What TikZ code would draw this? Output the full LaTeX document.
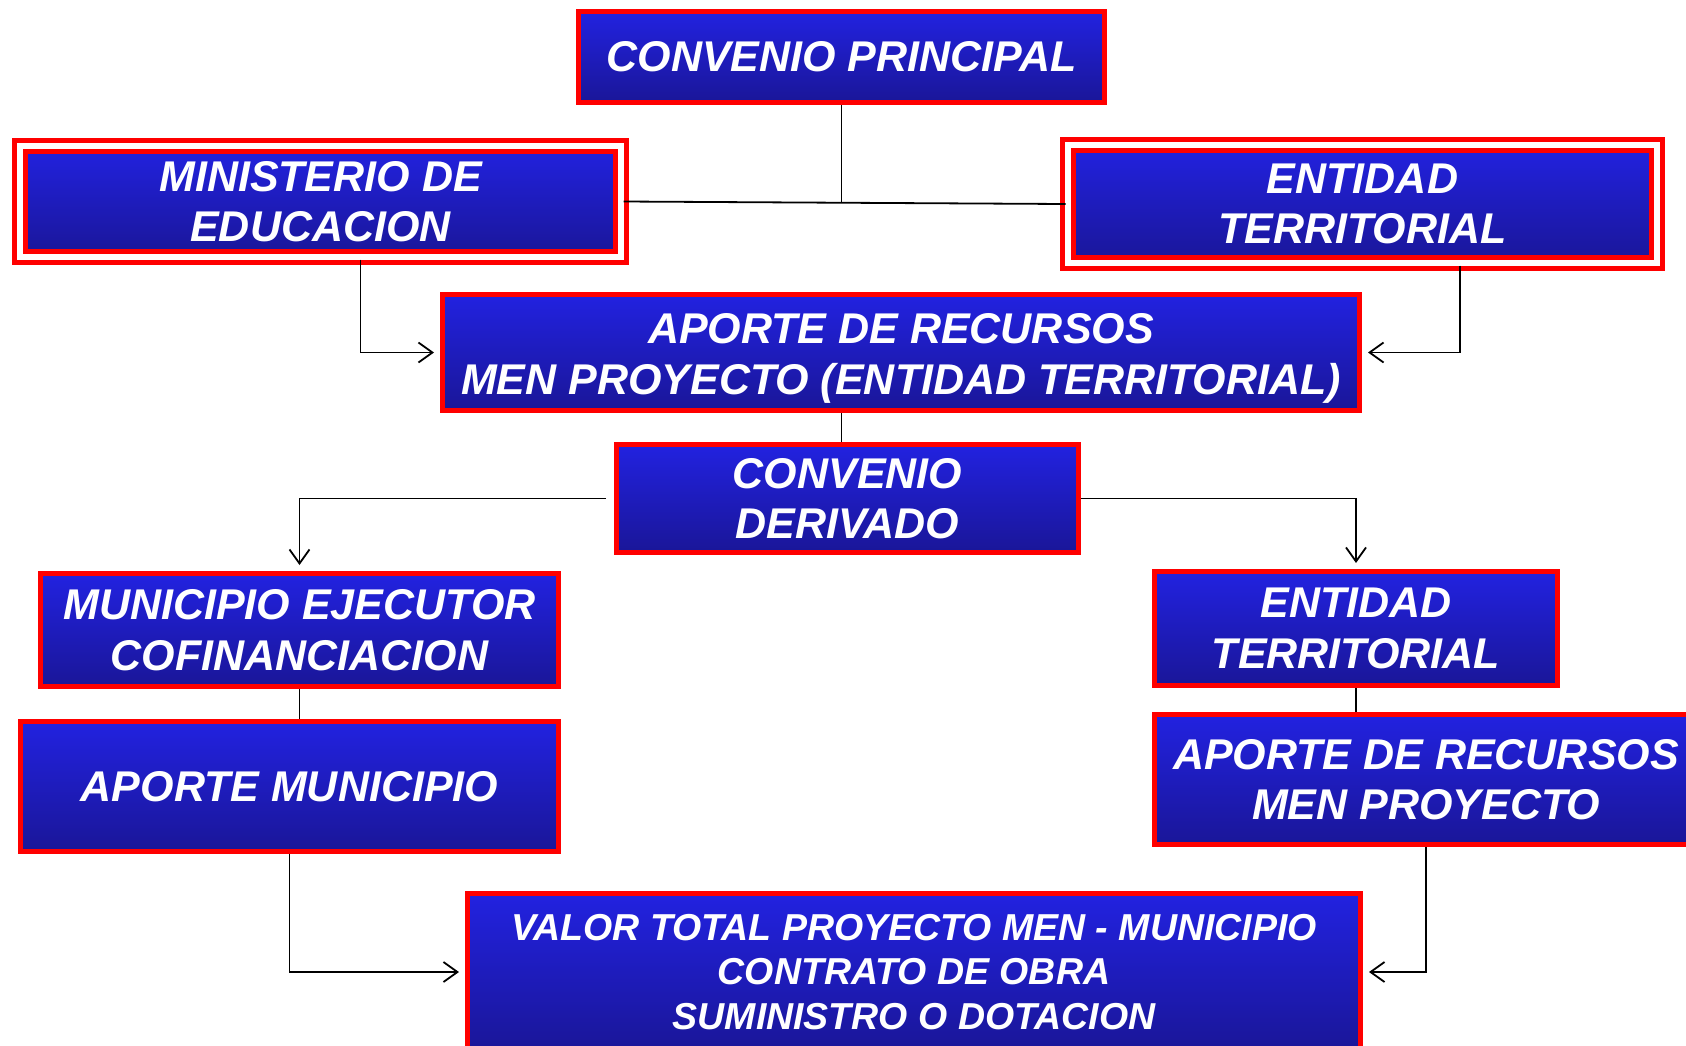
\documentclass[tikz,border=0pt]{standalone}
\usepackage{fontspec}
\setmainfont{Liberation Sans}
\usetikzlibrary{positioning}
\usetikzlibrary{arrows.meta}
\definecolor{boxtop}{RGB}{34,34,224}
\definecolor{boxbot}{RGB}{26,22,152}
\tikzset{texto/.style={text=white, font=\fontsize{21.5}{25.25}\selectfont\bfseries\itshape, align=center, inner sep=0pt}}
\tikzset{caja/.style={texto, draw=red, line width=2.5pt, top color=boxtop, bottom color=boxbot}}
\tikzset{cajadoble/.style={caja, double=white, double distance=3pt}}
\tikzset{linea/.style={line width=0.9pt}}
\tikzset{flecha/.style={linea, -{Straight Barb[length=7pt,width=10pt]}, shorten >=3pt}}

\begin{document}
\begin{tikzpicture}[x=0.5pt,y=-0.5pt]
\clip (0,0) rectangle (1686,1045);
\node[caja, minimum width=263pt, minimum height=45.5pt] (principal) at (841.5,57) {CONVENIO PRINCIPAL};
\node[cajadoble, minimum width=300.5pt, minimum height=55.5pt] (ministerio) at (320.5,201.5) {MINISTERIO DE\\EDUCACION};
\node[cajadoble, minimum width=294.5pt, minimum height=59pt] (entidad) at (1362.5,204) {ENTIDAD\\TERRITORIAL};
\node[caja, minimum width=458.5pt, minimum height=58pt] (aporte) at (901,352.5) {};
\node[texto] at ([yshift=-3pt]aporte.center) {APORTE DE RECURSOS\\MEN PROYECTO (ENTIDAD TERRITORIAL)};
\node[caja, minimum width=231pt, minimum height=54pt] (derivado) at (847.5,498.5) {CONVENIO\\DERIVADO};
\node[caja, minimum width=259pt, minimum height=56.5pt] (municipio) at (299.5,630) {MUNICIPIO EJECUTOR\\COFINANCIACION};
\node[caja, minimum width=269pt, minimum height=65pt] (aportemun) at (289.5,786.5) {APORTE MUNICIPIO};
\node[caja, minimum width=201.5pt, minimum height=57pt] (entidadder) at (1356,628.5) {ENTIDAD\\TERRITORIAL};
\node[caja, minimum width=271.5pt, minimum height=65pt] (aportemen) at (1426,779.5) {APORTE DE RECURSOS\\MEN PROYECTO};
\node[caja, font=\fontsize{18.75}{22.3}\selectfont\bfseries\itshape, minimum width=446.5pt, minimum height=78.5pt] (valor) at (914,972)
  {VALOR TOTAL PROYECTO MEN - MUNICIPIO\\CONTRATO DE OBRA\\SUMINISTRO O DOTACION};
% conectores
\draw[linea] (principal.south) -- (principal.south |- ministerio.east);
\draw[linea] (ministerio.east) -- (entidad.west);
\draw[flecha] ([xshift=20pt]ministerio.south) |- (aporte.west);
\draw[flecha] ([xshift=48.75pt]entidad.south) |- (aporte.east);
\draw[linea] (principal.south |- aporte.south) -- (principal.south |- derivado.north);
\draw[flecha, shorten <=4pt] (derivado.west) -| (municipio.north);
\draw[flecha] (derivado.east) -| (entidadder.north);
\draw[linea] (municipio.south) -- (municipio.south |- aportemun.north);
\draw[linea] (entidadder.south) -- (entidadder.south |- aportemen.north);
\draw[flecha] (aportemun.south) |- (valor.west);
\draw[flecha] (aportemen.south) |- (valor.east);
\end{tikzpicture}
\end{document}
